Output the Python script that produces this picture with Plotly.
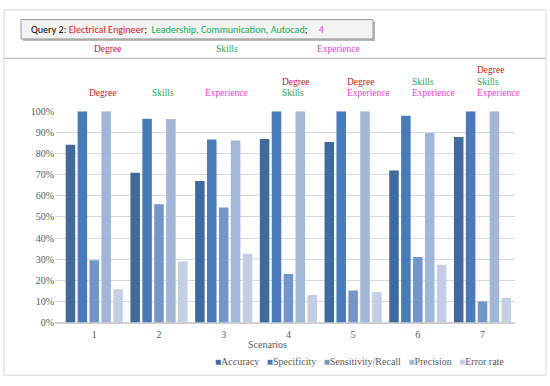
import plotly.graph_objects as go

scenarios = [1, 2, 3, 4, 5, 6, 7]
series_names = ["Accuracy", "Specificity", "Sensitivity/Recall", "Precision", "Error rate"]
accuracy = [0.841, 0.709, 0.670, 0.869, 0.854, 0.720, 0.878]
specificity = [1.000, 0.964, 0.866, 1.000, 1.000, 0.978, 1.000]
sensitivity = [0.295, 0.560, 0.544, 0.230, 0.152, 0.310, 0.099]
precision = [1.000, 0.963, 0.861, 1.000, 1.000, 0.897, 1.000]
error_rate = [0.157, 0.289, 0.326, 0.130, 0.145, 0.274, 0.117]
series_values = [accuracy, specificity, sensitivity, precision, error_rate]
colors = ["#40699C", "#4A7BB9", "#7395C8", "#A2B6D8", "#C4CFE5"]

scenario_labels = [
    ["Degree"], ["Skills"], ["Experience"],
    ["Degree", "Skills"], ["Degree", "Experience"],
    ["Skills", "Experience"], ["Degree", "Skills", "Experience"],
]
label_colors = {"Degree": "#C0202B", "Skills": "#1FA55A", "Experience": "#E43FDC"}
ytick_vals = [i / 10 for i in range(11)]
ytick_text = [f"{i*10}%" for i in range(11)]

W, H = 550, 386
def px(x): return x / W
def py(y): return 1 - y / H

SERIF = "Liberation Serif"
fig = go.Figure()
for name, vals, c in zip(series_names, series_values, colors):
    fig.add_trace(go.Bar(x=scenarios, y=vals, name=name, marker=dict(color=c, line=dict(width=0))))

fig.update_layout(
    width=W, height=H, margin=dict(l=0, r=0, t=0, b=0),
    paper_bgcolor="white", plot_bgcolor="white",
    barmode="group", bargap=0.08, bargroupgap=0.2,
    showlegend=False,
    font=dict(family=SERIF, size=10, color="#595959"),
    xaxis=dict(domain=[px(55), px(515)], range=[0.393, 7.502], tickvals=scenarios,
               ticktext=[str(s) for s in scenarios], showgrid=False, zeroline=False,
               showline=False, ticks="", ticklabelstandoff=4,
               tickfont=dict(size=10, color="#595959")),
    yaxis=dict(domain=[py(326.7), py(108.6)], range=[0, 1], tickvals=ytick_vals,
               ticktext=ytick_text, showgrid=True, gridcolor="#D9D9D9", gridwidth=1,
               zeroline=True, zerolinecolor="#D0D0D0", showline=False, ticks="",
               tickfont=dict(size=10, color="#595959")),
)

shapes = []
shapes.append(dict(type="rect", xref="paper", yref="paper", x0=px(4), x1=px(546), y0=py(381), y1=py(4),
                   line=dict(color="#D6D6D6", width=1), layer="below"))
shapes.append(dict(type="line", xref="paper", yref="paper", x0=px(4), x1=px(546), y0=py(54), y1=py(54),
                   line=dict(color="#BDBDBD", width=1.2)))
shapes.append(dict(type="rect", xref="paper", yref="paper", x0=px(23), x1=px(375), y0=py(36), y1=py(16),
                   line=dict(width=0), fillcolor="#B8B8B8"))
shapes.append(dict(type="rect", xref="paper", yref="paper", x0=px(21), x1=px(373), y0=py(34), y1=py(14),
                   line=dict(color="#9A9A9A", width=1), fillcolor="#F3F3F3"))
fig.update_layout(shapes=shapes)

ann = []
ann.append(dict(xref="paper", yref="paper", x=px(29), y=py(24), xanchor="left", yanchor="middle",
                showarrow=False, font=dict(family="Carlito, Lato", size=10.1, color="#000000"),
                text="Query 2: <span style='color:#D0202E'>Electrical Engineer</span>;&nbsp; "
                     "<span style='color:#17A85A'>Leadership, Communication, Autocad</span>;&nbsp;&nbsp;&nbsp;&nbsp; "
                     "<span style='color:#E83FD9'>4</span>"))
for t, x in [("Degree", 107), ("Skills", 227), ("Experience", 338)]:
    ann.append(dict(xref="paper", yref="paper", x=px(x), y=py(44), xanchor="center", yanchor="middle",
                    showarrow=False, text=t, font=dict(family=SERIF, size=9.5, color=label_colors[t])))

shifts_single = [8, 4, 3]
for i, (s, labs) in enumerate(zip(scenarios, scenario_labels)):
    n = len(labs)
    for k, lab in enumerate(labs):
        ypix = 89.5 - 11.5 * (n - 1 - k)
        if n == 1:
            ann.append(dict(xref="x", yref="paper", x=s, y=py(ypix), xanchor="center", yanchor="middle",
                            xshift=shifts_single[i], showarrow=False, text=lab,
                            font=dict(family=SERIF, size=9.5, color=label_colors[lab])))
        else:
            ann.append(dict(xref="x", yref="paper", x=s, y=py(ypix), xanchor="left", yanchor="middle",
                            xshift=-8, showarrow=False, text=lab,
                            font=dict(family=SERIF, size=9.5, color=label_colors[lab])))

ann.append(dict(xref="paper", yref="paper", x=px(267), y=py(349.5), xanchor="center", yanchor="middle",
                showarrow=False, text="Scenarios", font=dict(family=SERIF, size=10, color="#595959")))
legend_text = "&nbsp;&nbsp;&nbsp;".join(
    f"<span style='color:{c}'>■</span>{n}" for n, c in zip(series_names, colors))
ann.append(dict(xref="paper", yref="paper", x=px(213), y=py(367), xanchor="left", yanchor="middle",
                showarrow=False, text=legend_text, font=dict(family=SERIF, size=10, color="#595959")))
fig.update_layout(annotations=ann)

fig.write_html("out.html", post_script="document.body.style.margin='0px';",
               config={"displayModeBar": False})
